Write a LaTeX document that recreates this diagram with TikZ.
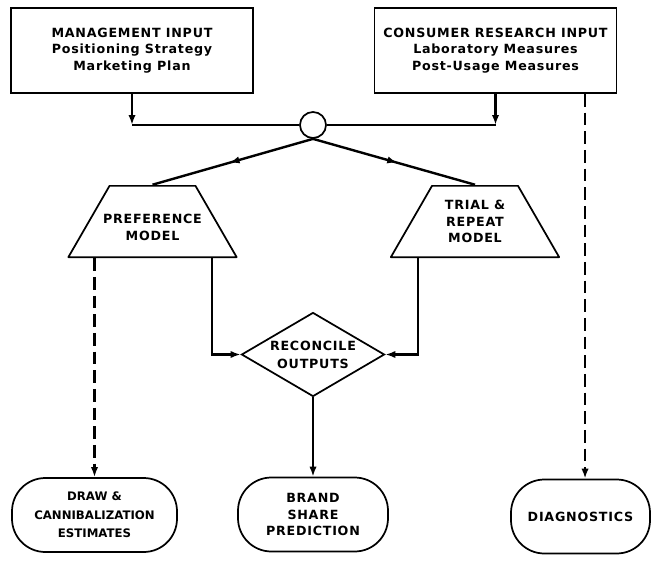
\documentclass[tikz,border=0pt]{standalone}
\usepackage{fontspec}
\setsansfont{DejaVu Sans}[LetterSpace=6]
\usetikzlibrary{shapes.geometric,arrows.meta,decorations.markings}

\begin{document}
\begin{tikzpicture}[x=0.75pt,y=-0.75pt,
    font=\sffamily\bfseries\fontsize{9.5}{12.4}\selectfont]
    % `inputbox' is used for the two input boxes at the top.
    % `model' is used for the two trapezoid model blocks.
    % `result' is used for the rounded output boxes at the bottom.
    \tikzstyle{inputbox} = [draw,line width=1.3pt,align=center,minimum width=181.5pt,minimum height=63.75pt]
    \tikzstyle{junction} = [draw,line width=1.3pt,circle,minimum size=19.5pt,inner sep=0pt]
    \tikzstyle{model} = [minimum width=127.5pt,minimum height=54.75pt,inner sep=0pt,align=center,path picture={
\draw[line width=1.3pt,line join=round]
  ([shift={(0.65pt,0.65pt)}]path picture bounding box.south west) --
  ([shift={(31.5pt,-0.65pt)}]path picture bounding box.north west) --
  ([shift={(-31.5pt,-0.65pt)}]path picture bounding box.north east) --
  ([shift={(-0.65pt,0.65pt)}]path picture bounding box.south east) -- cycle;
}]
    \tikzstyle{decision} = [draw,line width=1.3pt,diamond,aspect=1.7,minimum width=107.25pt,minimum height=63pt,
      inner sep=0pt,align=center]
    \tikzstyle{result} = [draw,line width=1.3pt,rounded corners=25pt,minimum height=55.5pt,align=center]
    \tikzstyle{link} = [line width=1.8pt]
    \tikzstyle{tip} = [-{Latex[length=7.5pt,width=5.5pt]}]
    \tikzstyle{midtip} = [postaction={decorate},decoration={markings,
      mark=at position 0.52 with {\arrow{Latex[length=7.5pt,width=5.5pt]}}}]
    \tikzstyle{dashline} = [dash pattern=on 9.5pt off 4.5pt]
    %
    \path[use as bounding box,fill=white] (0,0) rectangle (652,560);
    % Input boxes and the joining circle.
    \node[inputbox] (mgmt) at (132,50.5) {MANAGEMENT INPUT\\Positioning Strategy\\Marketing Plan};
    \node[inputbox] (consumer) at (495.5,50.5) {CONSUMER RESEARCH INPUT\\Laboratory Measures\\Post-Usage Measures};
    \node[junction] (hub) at (313,125) {};
    % Models and reconciliation.
    \node[model] (pref) at (152.5,221.5) {\rule{0pt}{16pt}PREFERENCE\\MODEL};
    \node[model] (trial) at (475,221.5) {TRIAL \&\\REPEAT\\MODEL};
    \node[decision,font=\sffamily\bfseries\fontsize{9.5}{13.5}\selectfont] (recon) at (313,354.5) {RECONCILE\\OUTPUTS};
    % Outputs.
    \node[result,minimum width=123.75pt,font=\sffamily\bfseries\fontsize{8.8}{14}\selectfont\addfontfeature{LetterSpace=0}] (estim) at (94.5,515) {DRAW \&\\CANNIBALIZATION\\ESTIMATES};
    \node[result,minimum width=112.5pt] (brand) at (313,514.5) {BRAND\\SHARE\\PREDICTION};
    \node[result,minimum width=104.25pt] (diag) at (580.5,516.5) {DIAGNOSTICS};
    %
    % Draw lines.
    \draw[link,tip] (mgmt.south) -- (mgmt.south |- hub.west);
    \draw[link] (mgmt.south |- hub.west) -- (hub.west);
    \draw[link,tip] (consumer.south) -- (consumer.south |- hub.east);
    \draw[link] (consumer.south |- hub.east) -- (hub.east);
    \draw[link,midtip] (hub.south) -- (pref.north);
    \draw[link,midtip] (hub.south) -- (trial.north);
    \draw[link,tip] ([xshift=44.6pt]pref.south) |- (recon.west);
    \draw[link,tip] ([xshift=-42.75pt]trial.south) |- (recon.east);
    \draw[link,tip] (recon.south) -- (brand.north);
    \draw[link,tip,dashline] (estim.north |- pref.south) -- (estim.north);
    \draw[link,tip,dashline] ([xshift=3.4pt]diag.north |- consumer.south) -- ([xshift=3.4pt]diag.north);
\end{tikzpicture}
\end{document}
